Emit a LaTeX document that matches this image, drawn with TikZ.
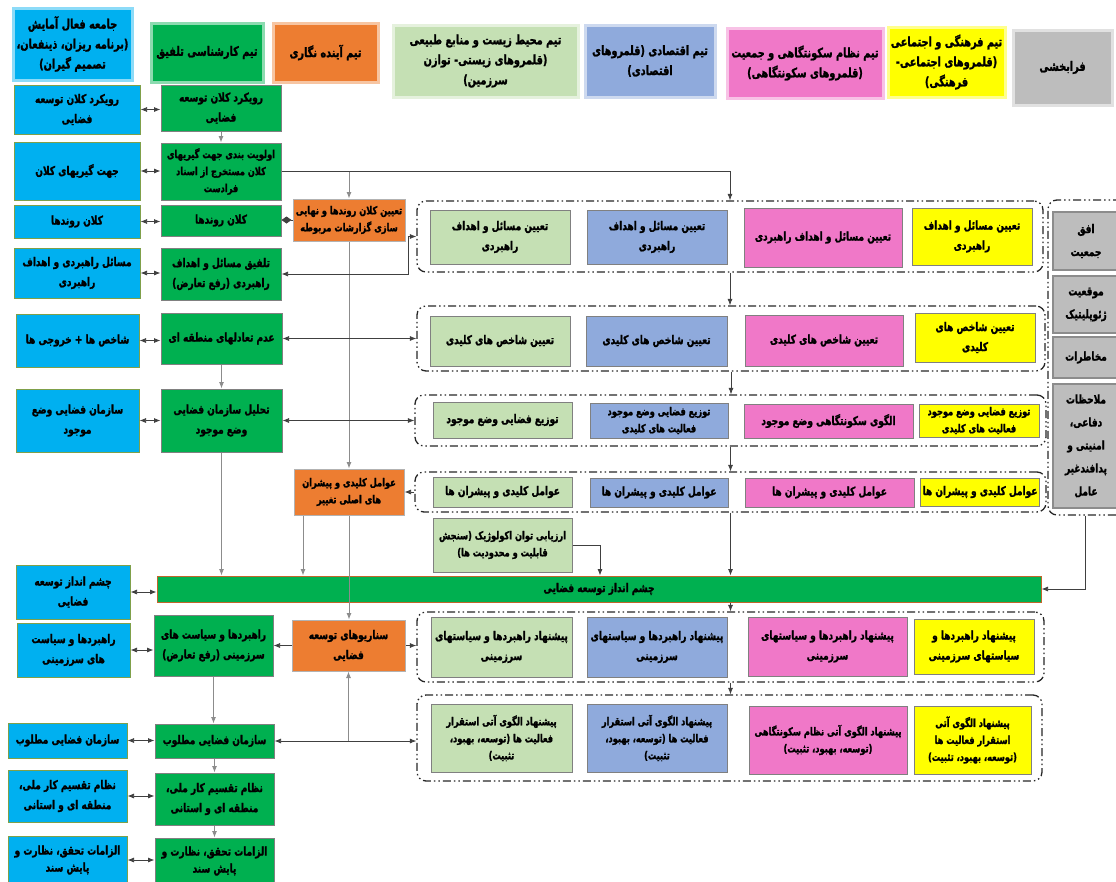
\documentclass[tikz,border=0pt]{standalone}
\usepackage{fontspec}
\usetikzlibrary{arrows.meta,shadows}
\TeXXeTstate=1
\newfontfamily\farsi[Script=Arabic, FakeStretch=0.75, BoldFeatures={FakeBold=1.5}]{DejaVu Sans}
\newcommand\FA[1]{\beginR#1\endR}
\definecolor{cyanc}{HTML}{00B0F0}
\definecolor{cyanedge}{HTML}{7FA04A}
\definecolor{greenc}{HTML}{00B050}
\definecolor{orangec}{HTML}{ED7D31}
\definecolor{lgc}{HTML}{C5E0B4}
\definecolor{bluec}{HTML}{8FAADC}
\definecolor{pinkc}{HTML}{F078C8}
\definecolor{yelc}{HTML}{FFFF00}
\definecolor{greyc}{HTML}{BDBDBD}
\definecolor{edgec}{HTML}{808080}
\definecolor{baredge}{HTML}{C0662A}
\newcommand\bxc[7]{%
 \pgfmathsetmacro\bxX{(#3+#5)/2}%
 \pgfmathsetmacro\bxY{(#4+#6)/2}%
 \pgfmathsetmacro\bxW{#5-#3}%
 \pgfmathsetmacro\bxH{#6-#4}%
 \node[#1,minimum width=\bxW pt,minimum height=\bxH pt] (#2) at (\bxX,\bxY) {#7};}
\tikzset{
 box/.style={rectangle, draw=edgec, line width=1pt, inner xsep=2pt, inner ysep=1pt, align=center, text=black, font=\farsi\bfseries\fontsize{12}{20}\selectfont},
 sm/.style={font=\farsi\bfseries\fontsize{11}{17}\selectfont},
 tight/.style={font=\farsi\bfseries\fontsize{12}{17}\selectfont},
 cbox/.style={box, fill=cyanc, draw=cyanedge},
 gbox/.style={box, fill=greenc},
 obox/.style={box, fill=orangec, draw=black!30},
 lbox/.style={box, fill=lgc},
 bbox/.style={box, fill=bluec},
 pbox/.style={box, fill=pinkc},
 ybox/.style={box, fill=yelc},
 sbox/.style={box, fill=greyc, draw=black!45, line width=1.5pt, font=\farsi\bfseries\fontsize{12}{23}\selectfont},
 hdr/.style={rectangle, fill=#1, draw=#1!45!white, line width=3pt, inner sep=1pt, align=center, text=black, font=\farsi\bfseries\fontsize{13}{20}\selectfont, drop shadow={opacity=0.3,shadow xshift=1.5pt,shadow yshift=-1.5pt}},
 grp/.style={rectangle, draw=black!85, line width=1.3pt, rounded corners=9pt, dash pattern=on 8pt off 3pt on 1.5pt off 3pt on 1.5pt off 3pt, inner sep=0pt},
 con/.style={draw=black!75, line width=0.75pt},
 gcon/.style={draw=black!45, line width=0.9pt}
}
\begin{document}
\begin{tikzpicture}[x=1pt,y=-1pt,>={Latex[length=6.5pt,width=5pt]}]
\useasboundingbox (0,0) rectangle (1116,881);
% headers
\bxc{hdr=cyanc}{hB}{13}{8}{132}{80}{\FA{جامعه فعال آمایش}\\\FA{(برنامه ریزان، ذینفعان،}\\\FA{تصمیم گیران)}}
\bxc{hdr=greenc}{hG}{151}{23}{263}{82}{\FA{تیم کارشناسی تلفیق}}
\bxc{hdr=orangec}{hO}{273}{23}{378}{82}{\FA{تیم آینده نگاری}}
\bxc{hdr=lgc}{hL}{393}{25}{578}{97}{\FA{تیم محیط زیست و منابع طبیعی}\\\FA{(قلمروهای زیستی- توازن}\\\FA{سرزمین)}}
\bxc{hdr=bluec}{hBl}{585}{25}{715}{97}{\FA{تیم اقتصادی (قلمروهای}\\\FA{اقتصادی)}}
\bxc{hdr=pinkc}{hP}{727}{28}{883}{98}{\FA{تیم نظام سکونتگاهی و جمعیت}\\\FA{(قلمروهای سکونتگاهی)}}
\bxc{hdr=yelc}{hY}{888}{27}{1005}{97}{\FA{تیم فرهنگی و اجتماعی}\\\FA{(قلمروهای اجتماعی-}\\\FA{فرهنگی)}}
\bxc{hdr=greyc}{hGr}{1013}{30}{1112}{105}{\FA{فرابخشی}}
% cyan column
\bxc{cbox}{B1}{14}{85}{140}{134}{\FA{رویکرد کلان توسعه}\\\FA{فضایی}}
\bxc{cbox}{B2}{14}{142}{140}{200}{\FA{جهت گیریهای کلان}}
\bxc{cbox}{B3}{14}{205}{140}{238}{\FA{کلان روندها}}
\bxc{cbox}{B4}{14}{248}{140}{298}{\FA{مسائل راهبردی و اهداف}\\\FA{راهبردی}}
\bxc{cbox}{B5}{16}{314}{139}{367}{\FA{شاخص ها + خروجی ها}}
\bxc{cbox}{B6}{16}{389}{139}{452}{\FA{سازمان فضایی وضع}\\\FA{موجود}}
\bxc{cbox}{B7}{16}{565}{130}{619}{\FA{چشم انداز توسعه}\\\FA{فضایی}}
\bxc{cbox}{B8}{17}{623}{130}{677}{\FA{راهبردها و سیاست}\\\FA{های سرزمینی}}
\bxc{cbox}{B9}{8}{723}{127}{758}{\FA{سازمان فضایی مطلوب}}
\bxc{cbox}{B10}{8}{770}{127}{822}{\FA{نظام تقسیم کار ملی،}\\\FA{منطقه ای و استانی}}
\bxc{cbox,tight}{B11}{8}{836}{127}{884}{\FA{الزامات تحقق، نظارت و}\\\FA{پایش سند}}
% green column
\bxc{gbox}{G1}{161}{85}{281}{131}{\FA{رویکرد کلان توسعه}\\\FA{فضایی}}
\bxc{gbox,sm}{G2}{161}{143}{281}{200}{\FA{اولویت بندی جهت گیریهای}\\\FA{کلان مستخرج از اسناد}\\\FA{فرادست}}
\bxc{gbox}{G3}{161}{205}{281}{236}{\FA{کلان روندها}}
\bxc{gbox}{G4}{161}{248}{281}{300}{\FA{تلفیق مسائل و اهداف}\\\FA{راهبردی (رفع تعارض)}}
\bxc{gbox}{G5}{161}{313}{282}{364}{\FA{عدم تعادلهای منطقه ای}}
\bxc{gbox}{G6}{161}{389}{282}{452}{\FA{تحلیل سازمان فضایی}\\\FA{وضع موجود}}
\bxc{box,fill=greenc,draw=baredge}{bar}{157}{576}{1041}{602}{\FA{چشم انداز توسعه فضایی}}
\bxc{gbox}{G7}{154}{615}{273}{676}{\FA{راهبردها و سیاست های}\\\FA{سرزمینی (رفع تعارض)}}
\bxc{gbox}{G8}{155}{724}{274}{758}{\FA{سازمان فضایی مطلوب}}
\bxc{gbox}{G9}{155}{773}{274}{825}{\FA{نظام تقسیم کار ملی،}\\\FA{منطقه ای و استانی}}
\bxc{gbox,tight}{G10}{155}{838}{274}{884}{\FA{الزامات تحقق، نظارت و}\\\FA{پایش سند}}
% orange column
\bxc{obox,sm}{O1}{293}{199}{405}{241}{\FA{تعیین کلان روندها و نهایی}\\\FA{سازی گزارشات مربوطه}}
\bxc{obox,sm}{O2}{294}{469}{404}{515}{\FA{عوامل کلیدی و پیشران}\\\FA{های اصلی تغییر}}
\bxc{obox}{O3}{292}{620}{405}{671}{\FA{سناریوهای توسعه}\\\FA{فضایی}}
\bxc{lbox,sm}{Eco}{433}{518}{572}{572}{\FA{ارزیابی توان اکولوژیک (سنجش}\\\FA{قابلیت و محدودیت ها)}}
% dashed groups
\bxc{grp}{F1}{417}{201}{1043}{272}{}
\bxc{grp}{F2}{417}{306}{1045}{371}{}
\bxc{grp}{F3}{415}{395}{1046}{446}{}
\bxc{grp}{F4}{415}{472}{1046}{512}{}
\bxc{grp}{F5}{417}{612}{1044}{682}{}
\bxc{grp}{F6}{417}{695}{1042}{781}{}
\bxc{grp}{FG}{1048}{200}{1130}{515}{}
% group 1
\bxc{lbox}{g1a}{430}{210}{570}{264}{\FA{تعیین مسائل و اهداف}\\\FA{راهبردی}}
\bxc{bbox}{g1b}{587}{210}{727}{264}{\FA{تعیین مسائل و اهداف}\\\FA{راهبردی}}
\bxc{pbox}{g1c}{744}{208}{902}{267}{\FA{تعیین مسائل و اهداف راهبردی}}
\bxc{ybox}{g1d}{912}{208}{1032}{265}{\FA{تعیین مسائل و اهداف}\\\FA{راهبردی}}
% group 2
\bxc{lbox}{g2a}{430}{316}{570}{366}{\FA{تعیین شاخص های کلیدی}}
\bxc{bbox}{g2b}{586}{316}{727}{366}{\FA{تعیین شاخص های کلیدی}}
\bxc{pbox}{g2c}{745}{315}{903}{366}{\FA{تعیین شاخص های کلیدی}}
\bxc{ybox}{g2d}{915}{313}{1035}{362}{\FA{تعیین شاخص های}\\\FA{کلیدی}}
% group 3
\bxc{lbox}{g3a}{433}{402}{572}{438}{\FA{توزیع فضایی وضع موجود}}
\bxc{bbox,sm}{g3b}{590}{403}{728}{438}{\FA{توزیع فضایی وضع موجود}\\\FA{فعالیت های کلیدی}}
\bxc{pbox}{g3c}{744}{404}{913}{438}{\FA{الگوی سکونتگاهی وضع موجود}}
\bxc{ybox,sm}{g3d}{919}{404}{1039}{437}{\FA{توزیع فضایی وضع موجود}\\\FA{فعالیت های کلیدی}}
% group 4
\bxc{lbox}{g4a}{433}{477}{572}{507}{\FA{عوامل کلیدی و پیشران ها}}
\bxc{bbox}{g4b}{590}{478}{728}{507}{\FA{عوامل کلیدی و پیشران ها}}
\bxc{pbox}{g4c}{745}{478}{914}{507}{\FA{عوامل کلیدی و پیشران ها}}
\bxc{ybox}{g4d}{921}{478}{1039}{506}{\FA{عوامل کلیدی و پیشران ها}}
% group 5
\bxc{lbox}{g5a}{431}{617}{572}{677}{\FA{پیشنهاد راهبردها و سیاستهای}\\\FA{سرزمینی}}
\bxc{bbox}{g5b}{587}{617}{727}{677}{\FA{پیشنهاد راهبردها و سیاستهای}\\\FA{سرزمینی}}
\bxc{pbox}{g5c}{748}{617}{907}{676}{\FA{پیشنهاد راهبردها و سیاستهای}\\\FA{سرزمینی}}
\bxc{ybox}{g5d}{914}{619}{1034}{674}{\FA{پیشنهاد راهبردها و}\\\FA{سیاستهای سرزمینی}}
% group 6
\bxc{lbox,sm}{g6a}{431}{704}{572}{772}{\FA{پیشنهاد الگوی آتی استقرار}\\\FA{فعالیت ها (توسعه، بهبود،}\\\FA{تثبیت)}}
\bxc{bbox,sm}{g6b}{587}{704}{727}{772}{\FA{پیشنهاد الگوی آتی استقرار}\\\FA{فعالیت ها (توسعه، بهبود،}\\\FA{تثبیت)}}
\bxc{pbox,sm}{g6c}{749}{706}{907}{774}{\FA{پیشنهاد الگوی آتی نظام سکونتگاهی}\\\FA{(توسعه، بهبود، تثبیت)}}
\bxc{ybox,sm}{g6d}{914}{706}{1031}{774}{\FA{پیشنهاد الگوی آتی}\\\FA{استقرار فعالیت ها}\\\FA{(توسعه، بهبود، تثبیت)}}
% grey side boxes
\bxc{sbox}{S1}{1053}{212}{1119}{270}{\FA{افق}\\\FA{جمعیت}}
\bxc{sbox}{S2}{1053}{276}{1119}{333}{\FA{موقعیت}\\\FA{ژئوپلیتیک}}
\bxc{sbox}{S3}{1053}{337}{1119}{378}{\FA{مخاطرات}}
\bxc{sbox}{S4}{1053}{384}{1119}{508}{\FA{ملاحظات}\\\FA{دفاعی،}\\\FA{امنیتی و}\\\FA{پدافندغیر}\\\FA{عامل}}
% connectors: left column pairs
\foreach \a/\b in {B1/G1,B2/G2,B3/G3,B4/G4,B5/G5,B6/G6,B8/G7,B9/G8,B10/G9,B11/G10}
  \draw[con,<->] (\a.east) -- (\a.east -| \b.west);
\draw[con,<->] (B7.east) -- (B7.east -| bar.west);
% green column verticals
\draw[gcon,->] (G1.south) -- (G1.south |- G2.north);
\draw[gcon,->] (G5.south) -- (G5.south |- G6.north);
\draw[gcon,->] (G6.south) -- (G6.south |- bar.north);
\draw[gcon,->] (G7.south) -- (G7.south |- G8.north);
\draw[gcon,->] (G8.south) -- (G8.south |- G9.north);
\draw[gcon,->] (G9.south) -- (G9.south |- G10.north);
% orange column
\draw[con,-{Diamond[length=10pt,width=7pt]}] (O1.west) -- (O1.west -| G3.east);
\draw[con,->] (G2.east) -| (F1.north);
\draw[gcon,->] (O1.north |- G2.east) -- (O1.north);
\draw[gcon,->] (O1.south) -- (O2.north);
\draw[gcon,->] (O2.south) -- (O2.south |- O3.north);
\draw[gcon,->] ([xshift=-46pt]O2.south) -- ([xshift=-46pt]O2.south |- bar.north);
\coordinate (k1) at (408,236.5);
\draw[con,<->] (G4.east) -| (k1) -- (F1.west);
\draw[con,<->] (G5.east) -- (G5.east -| F2.west);
\draw[con,<->] (G6.east) -- (G6.east -| F3.west);
\draw[con,->] (F4.west) -- (F4.west -| O2.east);
\draw[con,->] (O3.east) -- (O3.east -| F5.west);
\draw[con,->] (O3.west) -- (O3.west -| G7.east);
\draw[con,<->] (G8.east) -- (G8.east -| F6.west);
\draw[gcon,->] (O3.south |- G8.east) -- (O3.south);
% group chain verticals
\draw[con,->] (F1.south) -- (F1.south |- F2.north);
\draw[con,->] (F2.south) -- (F2.south |- F3.north);
\draw[con,->] (F3.south) -- (F3.south |- F4.north);
\draw[con,->] (F4.south) -- (F4.south |- bar.north);
\draw[con,->] (bar.south -| F4.south) -- (F5.north -| F4.south);
\draw[con,->] (F5.south) -- (F5.south |- F6.north);
\draw[con,->] (Eco.east) -| ([xshift=1pt]bar.north);
\draw[con,->] ([xshift=-4pt]FG.south) |- (bar.east);
\end{tikzpicture}
\end{document}
